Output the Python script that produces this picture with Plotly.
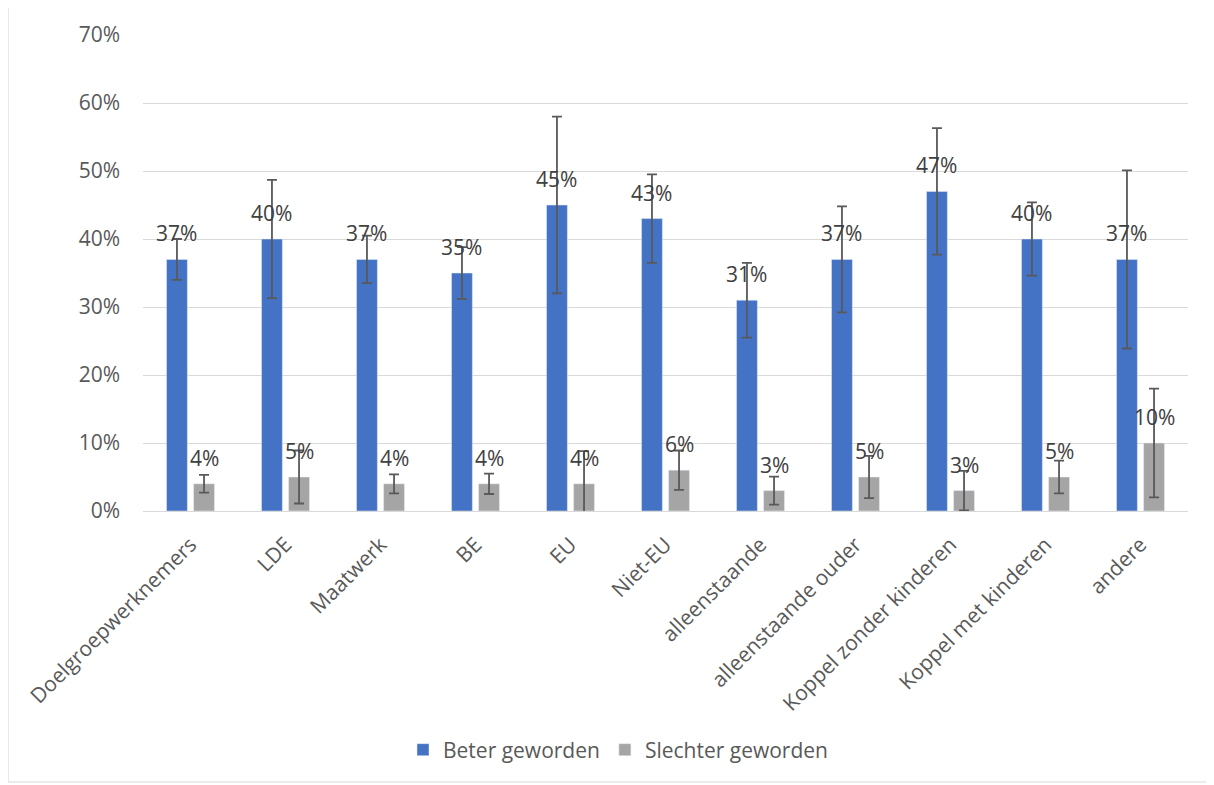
import plotly.graph_objects as go

categories = ["Doelgroepwerknemers", "LDE", "Maatwerk", "BE", "EU", "Niet-EU",
              "alleenstaande", "alleenstaande ouder", "Koppel zonder kinderen",
              "Koppel met kinderen", "andere"]
beter = [0.37, 0.40, 0.37, 0.35, 0.45, 0.43, 0.31, 0.37, 0.47, 0.40, 0.37]
beter_err = [0.030, 0.087, 0.035, 0.038, 0.130, 0.065, 0.055, 0.078, 0.093, 0.054, 0.131]
slechter = [0.04, 0.05, 0.04, 0.04, 0.04, 0.06, 0.03, 0.05, 0.03, 0.05, 0.10]
slechter_err = [0.013, 0.039, 0.014, 0.015, 0.048, 0.029, 0.0205, 0.031, 0.029, 0.024, 0.080]
y_ticks = [0, 0.1, 0.2, 0.3, 0.4, 0.5, 0.6, 0.7]

FONT = "Open Sans"
FS = 21
OFF = 8  # page body margin
W, H = 1206, 777
pw, ph = 1045, 476
L, T = 143 - OFF, 35 - OFF
R, B = W - L - pw, H - T - ph

def px_to_paper_x(px):
    return (px - OFF - L) / pw

def py_to_paper_y(py):
    return (T + ph - (py - OFF)) / ph

fig = go.Figure()
err_style = dict(type="data", color="#595959", thickness=1.8, width=5)
fig.add_trace(go.Bar(name="Beter geworden", x=categories, y=beter,
                     marker=dict(color="#4472C4"),
                     error_y=dict(array=beter_err, **err_style)))
fig.add_trace(go.Bar(name="Slechter geworden", x=categories, y=slechter,
                     marker=dict(color="#A5A5A5"),
                     error_y=dict(array=slechter_err, **err_style)))

# data labels
for vals, shift in ((beter, -13.6), (slechter, 13.6)):
    for c, v in zip(categories, vals):
        fig.add_annotation(x=c, y=v, text=f"{round(v*100)}%", showarrow=False,
                           xshift=shift, yshift=26, yanchor="middle",
                           font=dict(family=FONT, size=FS, color="#404040"))

# chart border
fig.add_shape(type="rect", xref="paper", yref="paper",
              x0=px_to_paper_x(8), x1=px_to_paper_x(1207),
              y0=py_to_paper_y(782), y1=py_to_paper_y(5),
              line=dict(color="#D9D9D9", width=1.2), layer="below")

fig.update_layout(
    width=W, height=H,
    margin=dict(l=L, r=R, t=T, b=B),
    paper_bgcolor="white", plot_bgcolor="white",
    barmode="group", bargap=0.43, bargroupgap=0.23,
    font=dict(family=FONT, size=FS, color="#595959"),
    showlegend=True,
    legend=dict(orientation="h", x=px_to_paper_x(618), xanchor="center",
                y=py_to_paper_y(750), yanchor="middle",
                font=dict(family=FONT, size=FS, color="#595959"),
                itemwidth=30, traceorder="normal"),
    xaxis=dict(tickangle=-45, showgrid=False, showline=False, zeroline=False,
               ticks="outside", ticklen=12, tickcolor="rgba(0,0,0,0)",
               tickfont=dict(family=FONT, size=FS, color="#595959")),
    yaxis=dict(range=[0, 0.7], tickvals=y_ticks, tickformat=".0%",
               showgrid=True, gridcolor="#D9D9D9", gridwidth=1.3,
               zeroline=True, zerolinecolor="#D9D9D9", zerolinewidth=1.3,
               showline=False, ticklabelstandoff=22,
               tickfont=dict(family=FONT, size=FS, color="#595959")),
)

fig.write_html("out.html")
